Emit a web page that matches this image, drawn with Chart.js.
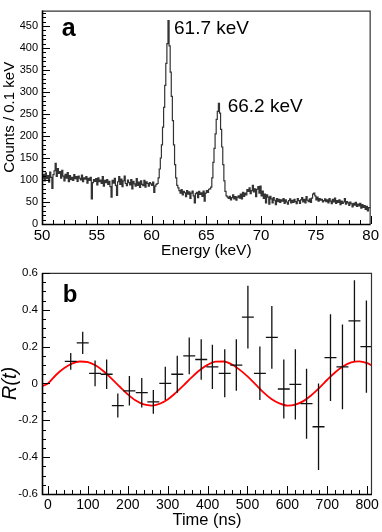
<!DOCTYPE html>
<html>
<head>
<meta charset="utf-8">
<script src="https://cdn.jsdelivr.net/npm/chart.js@4.4.1/dist/chart.umd.min.js"></script>
<style>
    html, body { margin: 0; padding: 0; background: #fff; }
    .panel { position: relative; width: 382px; }
    #top { height: 262px; }
    #bottom { height: 270px; }
</style>
</head>
<body>
<div class="panel" id="top"><canvas id="spectrumChart"></canvas></div>
<div class="panel" id="bottom"><canvas id="ratioChart"></canvas></div>
<script>
// ---- panel a: energy spectrum, counts per 0.1 keV bin starting at 50.0 keV ----
var binStart = 50.0;
var binWidth = 0.1;
var binEnd = 80.0;

// 50.0 - 60.5 keV
var bgLow = [
    125, 104, 112, 98, 116, 103, 110, 95, 118, 106,
    81, 112, 121, 138, 108, 126, 115, 119, 104, 122,
    109, 98, 113, 104, 117, 96, 110, 101, 106, 99,
    112, 103, 108, 97, 109, 104, 100, 111, 96, 105,
    102, 108, 93, 104, 99, 106, 57, 94, 101, 97,
    103, 89, 105, 96, 100, 92, 108, 86, 99, 94,
    101, 90, 97, 85, 61, 99, 93, 104, 88, 65,
    96, 108, 90, 102, 85, 98, 109, 92, 87, 100,
    94, 89, 101, 80, 97, 91, 86, 103, 88, 95,
    83, 98, 90, 87, 99, 84, 96, 92, 86, 94,
    91, 88, 95, 72, 86, 90
];
// 60.6 - 62.6 keV
var peak61 = [92, 105, 125, 150, 180, 220, 265, 315, 365, 410, 462, 405, 345, 290, 235, 180, 135, 105, 88, 82, 76];
// 62.7 - 65.3 keV
var bgMid = [
    70, 78, 66, 74, 71, 62, 76, 68, 73, 58,
    70, 75, 64, 48, 69, 72, 60, 74, 67, 71,
    63, 75, 52, 70, 76, 72, 79
];
// 65.4 - 67.0 keV
var peak66 = [80, 84, 105, 140, 172, 205, 238, 256, 274, 252, 215, 175, 135, 98, 74, 64, 61];
// 67.1 - 79.9 keV
var bgHigh = [
    58, 63, 55, 60, 66, 57, 62, 54, 61,
    64, 59, 68, 57, 72, 63, 70, 66, 78, 74,
    82, 69, 76, 88, 73, 80, 62, 79, 85, 70,
    86, 64, 75, 58, 68, 48, 66, 61, 45, 63,
    57, 48, 60, 54, 44, 58, 51, 56, 49, 55,
    52, 58, 47, 55, 50, 45, 53, 57, 48, 54,
    49, 56, 51, 46, 58, 53, 47, 55, 60, 50,
    56, 48, 62, 54, 51, 57, 49, 59, 68, 70,
    64, 55, 61, 52, 58, 54, 56, 50, 53, 57,
    51, 55, 48, 58, 52, 46, 56, 50, 59, 47,
    53, 49, 55, 44, 52, 47, 50, 58, 45, 51,
    48, 42, 50, 46, 39, 47, 43, 49, 40, 45,
    41, 47, 36, 44, 38, 42, 33, 40, 30, 37
];
var energyTicks = [50, 55, 60, 65, 70, 75, 80];
var countTicks = [0, 50, 100, 150, 200, 250, 300, 350, 400, 450];

// ---- panel b: R(t) measurements and fitted curve ----
var timeNs = [57, 87, 118, 147, 175, 204, 235, 264, 294, 324, 354, 384, 412, 443, 472, 501, 531, 561, 591, 620, 648, 678, 708, 738, 768, 798];
var ratio = [0.12, 0.22, 0.055, 0.05, -0.12, -0.04, -0.05, -0.10, 0.0, 0.05, 0.15, 0.13, 0.09, 0.055, 0.10, 0.36, 0.055, 0.25, -0.03, -0.005, -0.11, -0.235, 0.14, 0.09, 0.34, 0.20];
var ratioErr = [0.045, 0.06, 0.07, 0.08, 0.065, 0.08, 0.08, 0.065, 0.09, 0.10, 0.10, 0.11, 0.12, 0.13, 0.14, 0.17, 0.145, 0.17, 0.16, 0.19, 0.19, 0.235, 0.235, 0.23, 0.22, 0.25];
var timeHalfBin = 15;
var fitT = [-15, 0, 20, 40, 60, 80, 100, 120, 140, 160, 180, 200, 220, 240, 260, 280, 300, 320, 340, 360, 380, 400,
    420, 440, 460, 480, 500, 520, 540, 560, 580, 600, 620, 640, 660, 680, 700, 720, 740, 760, 780, 800, 812];
var fitR = [-0.015, 0.0, 0.046, 0.082, 0.108, 0.119, 0.116, 0.097, 0.065, 0.025, -0.018, -0.059, -0.093, -0.114, -0.12, -0.110,
    -0.087, -0.051, -0.010, 0.033, 0.072, 0.101, 0.118, 0.119, 0.104, 0.075, 0.038, -0.005, -0.048, -0.084, -0.108,
    -0.120, -0.115, -0.096, -0.064, -0.024, 0.020, 0.061, 0.093, 0.114, 0.12, 0.110, 0.097];
var timeTicks = [0, 100, 200, 300, 400, 500, 600, 700, 800];
var ratioTicks = [-0.6, -0.4, -0.2, 0, 0.2, 0.4, 0.6];

var FONT = "'Liberation Sans', Arial, Helvetica, sans-serif";
Chart.defaults.font.family = FONT;
Chart.defaults.color = '#000';

// frame, inward ticks and text notes drawn through the chart scales
var framePlugin = {
    id: 'frame',
    afterDatasetsDraw: function(chart, args, opts) {
        var a = chart.chartArea;
        var ctx = chart.ctx;
        var xs = chart.scales.x, ys = chart.scales.y;
        ctx.save();
        ctx.lineCap = 'butt';
        ctx.strokeStyle = '#333';
        ctx.lineWidth = 1.2;
        ctx.beginPath();
        ctx.moveTo(a.left, a.top + 0.5);
        ctx.lineTo(a.right - 0.5, a.top + 0.5);
        ctx.lineTo(a.right - 0.5, a.bottom);
        ctx.stroke();

        ctx.strokeStyle = '#000';
        ctx.lineWidth = 1;
        function tick(v, len, isX) {
            ctx.beginPath();
            if (isX) {
                var px = Math.round(xs.getPixelForValue(v)) + 0.5;
                ctx.moveTo(px, a.bottom);
                ctx.lineTo(px, a.bottom - len);
            } else {
                var py = Math.round(ys.getPixelForValue(v)) + 0.5;
                ctx.moveTo(a.left, py);
                ctx.lineTo(a.left + len, py);
            }
            ctx.stroke();
        }
        var v;
        for (v = opts.xMin; v <= opts.xMax + 1e-9; v += opts.xMinor) tick(v, 4, true);
        for (v = opts.xMin; v <= opts.xMax + 1e-9; v += opts.xMajor) tick(v, 8, true);
        for (v = opts.yMin; v <= opts.yMax + 1e-9; v += opts.yMinor) tick(v, 4, false);
        for (v = opts.yMin; v <= opts.yMax + 1e-9; v += opts.yMajor) tick(v, 8, false);

        ctx.lineWidth = 1.6;
        ctx.beginPath();
        ctx.moveTo(a.left + 0.5, a.top);
        ctx.lineTo(a.left + 0.5, a.bottom + 0.5);
        ctx.lineTo(a.right, a.bottom + 0.5);
        ctx.stroke();

        (opts.notes || []).forEach(function(n) {
            ctx.font = n.font;
            ctx.fillStyle = '#000';
            ctx.textAlign = 'left';
            ctx.textBaseline = 'middle';
            ctx.fillText(n.text, xs.getPixelForValue(n.x), ys.getPixelForValue(n.y));
        });
        ctx.restore();
    }
};

function fixedTicks(values) {
    return function(scale) {
        scale.ticks = values.map(function(v) { return { value: v }; });
    };
}

function showSpectrumChart() {
    var counts = bgLow.concat(peak61, bgMid, peak66, bgHigh);
    var points = counts.map(function(c, i) {
        return { x: binStart + i * binWidth, y: c };
    });
    points.push({ x: binEnd, y: counts[counts.length - 1] });

    var ctx = document.getElementById('spectrumChart').getContext('2d');
    new Chart(ctx, {
        type: 'line',
        data: {
            datasets: [{
                data: points,
                borderColor: '#333',
                borderWidth: 1.2,
                stepped: 'after',
                pointRadius: 0,
                fill: false
            }]
        },
        options: {
            responsive: true,
            maintainAspectRatio: false,
            animation: false,
            devicePixelRatio: 1,
            layout: { padding: { top: 1, right: 9, left: 0, bottom: 0 } },
            scales: {
                x: {
                    type: 'linear',
                    min: 50,
                    max: 80,
                    afterBuildTicks: fixedTicks(energyTicks),
                    afterFit: function(s) { s.height = 38; },
                    grid: { display: false, drawTicks: false },
                    border: { display: false },
                    ticks: { padding: 3, font: { size: 15 }, color: '#000', maxRotation: 0,
                        callback: function(v) { return String(v); } },
                    title: { display: true, text: 'Energy (keV)', font: { size: 15.5 }, color: '#000',
                        padding: { top: 0, bottom: 2 } }
                },
                y: {
                    min: 0,
                    max: 485,
                    afterBuildTicks: fixedTicks(countTicks),
                    afterFit: function(s) { s.width = 42; },
                    grid: { display: false, drawTicks: false },
                    border: { display: false },
                    ticks: { padding: 4, font: { size: 11 }, color: '#000',
                        callback: function(v) { return String(v); } },
                    title: { display: true, text: 'Counts / 0.1 keV', font: { size: 15, lineHeight: 1 }, color: '#000',
                        padding: { top: 2, bottom: 0 } }
                }
            },
            plugins: {
                legend: { display: false },
                tooltip: { enabled: false },
                frame: {
                    xMin: 50, xMax: 80, xMajor: 5, xMinor: 1,
                    yMin: 0, yMax: 485, yMajor: 50, yMinor: 10,
                    notes: [
                        { text: 'a', x: 51.8, y: 444, font: 'bold 25px ' + FONT },
                        { text: '61.7 keV', x: 62.05, y: 443, font: '19px ' + FONT },
                        { text: '66.2 keV', x: 66.95, y: 267, font: '19px ' + FONT }
                    ]
                }
            }
        },
        plugins: [framePlugin]
    });
}

function showRatioChart() {
    var vBars = [], hBars = [];
    timeNs.forEach(function(t, i) {
        vBars.push({ x: t, y: ratio[i] - ratioErr[i] });
        vBars.push({ x: t, y: ratio[i] + ratioErr[i] });
        vBars.push({ x: t, y: null });
        hBars.push({ x: t - timeHalfBin, y: ratio[i] });
        hBars.push({ x: t + timeHalfBin, y: ratio[i] });
        hBars.push({ x: t + timeHalfBin, y: null });
    });
    var fit = fitT.map(function(t, i) { return { x: t, y: fitR[i] }; });

    var ctx = document.getElementById('ratioChart').getContext('2d');
    new Chart(ctx, {
        type: 'line',
        data: {
            datasets: [
                {
                    data: vBars,
                    borderColor: '#111',
                    borderWidth: 1.3,
                    pointRadius: 0,
                    spanGaps: false,
                    fill: false
                },
                {
                    data: hBars,
                    borderColor: '#111',
                    borderWidth: 1.3,
                    pointRadius: 0,
                    spanGaps: false,
                    fill: false
                },
                {
                    data: fit,
                    borderColor: '#ff0000',
                    borderWidth: 1.8,
                    pointRadius: 0,
                    cubicInterpolationMode: 'monotone',
                    fill: false
                }
            ]
        },
        options: {
            responsive: true,
            maintainAspectRatio: false,
            animation: false,
            devicePixelRatio: 1,
            layout: { padding: { top: 8, right: 8, left: 0, bottom: 0 } },
            scales: {
                x: {
                    type: 'linear',
                    min: -15,
                    max: 812,
                    afterBuildTicks: fixedTicks(timeTicks),
                    afterFit: function(s) { s.height = 38; },
                    grid: { display: false, drawTicks: false },
                    border: { display: false },
                    ticks: { padding: 3, font: { size: 14 }, color: '#000', maxRotation: 0,
                        callback: function(v) { return String(v); } },
                    title: { display: true, text: 'Time (ns)', font: { size: 16.5 }, color: '#000',
                        padding: { top: 0, bottom: 2 } }
                },
                y: {
                    min: -0.6,
                    max: 0.6,
                    afterBuildTicks: fixedTicks(ratioTicks),
                    afterFit: function(s) { s.width = 42; },
                    grid: { display: false, drawTicks: false },
                    border: { display: false },
                    ticks: { padding: 4, font: { size: 11.5 }, color: '#000',
                        callback: function(v) { return String(Math.round(v * 10) / 10); } },
                    title: { display: true, text: 'R(t)', font: { size: 20, style: 'italic', lineHeight: 1 }, color: '#000',
                        padding: { top: 0, bottom: 0 } }
                }
            },
            plugins: {
                legend: { display: false },
                tooltip: { enabled: false },
                frame: {
                    xMin: 0, xMax: 812, xMajor: 100, xMinor: 20,
                    yMin: -0.6, yMax: 0.6, yMajor: 0.2, yMinor: 0.05,
                    notes: [
                        { text: 'b', x: 37, y: 0.48, font: 'bold 24px ' + FONT }
                    ]
                }
            }
        },
        plugins: [framePlugin]
    });
}

showSpectrumChart();
showRatioChart();
</script>
</body>
</html>
